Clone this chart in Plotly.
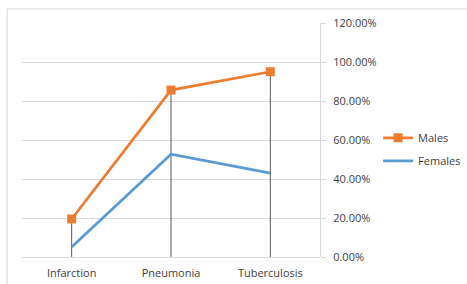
import plotly.graph_objects as go

categories = ["Infarction", "Pneumonia", "Tuberculosis"]
males = [0.195, 0.856, 0.95]
females = [0.051, 0.527, 0.43]
y_ticks = [0, 0.2, 0.4, 0.6, 0.8, 1.0, 1.2]

ORANGE = "#ED7D31"
BLUE = "#5B9BD5"
GRID = "#D9D9D9"
TEXT = "#404040"

fig = go.Figure()
# drop lines (from male values down to axis)
fig.add_trace(go.Scatter(
    x=categories, y=males, mode="none", showlegend=False, hoverinfo="skip",
    error_y=dict(type="data", symmetric=False, array=[0]*len(males),
                 arrayminus=males, color="#595959", thickness=1, width=0),
))
fig.add_trace(go.Scatter(
    x=categories, y=males, name="Males", mode="lines+markers",
    legendgroup="m",
    line=dict(color=ORANGE, width=2.75),
    marker=dict(symbol="square", size=9, color=ORANGE),
))
fig.add_trace(go.Scatter(
    x=categories, y=females, name="Females", mode="lines",
    legendgroup="f",
    line=dict(color=BLUE, width=2.75),
))

fig.update_layout(
    width=467, height=284,
    margin=dict(l=22, r=147, t=23, b=27, autoexpand=False),
    paper_bgcolor="white", plot_bgcolor="white",
    font=dict(family="Open Sans, Liberation Sans, sans-serif", size=11, color=TEXT),
    legend=dict(x=1.195, y=0.46, xanchor="left", yanchor="middle",
                font=dict(size=11, color=TEXT), tracegroupgap=4,
                itemwidth=30, bgcolor="rgba(0,0,0,0)"),
    xaxis=dict(type="category", range=[-0.5, 2.5], showgrid=False,
               showline=False, ticks="", ticklabelstandoff=8,
               tickfont=dict(size=11, color=TEXT)),
    yaxis=dict(side="right", range=[0, 1.2], tickvals=y_ticks,
               tickformat=".2%", showgrid=True, gridcolor=GRID, gridwidth=1,
               zeroline=True, zerolinecolor=GRID, zerolinewidth=1,
               showline=True, linecolor=GRID, linewidth=1,
               ticks="outside", ticklen=5, tickcolor=GRID,
               ticklabelstandoff=5,
               tickfont=dict(size=11, color=TEXT)),
    shapes=[dict(type="rect", xref="paper", yref="paper",
                 x0=-0.05, x1=1.6, y0=-0.3, y1=1.06,
                 line=dict(color=GRID, width=1), layer="below")],
)

fig.write_html("out.html", config={"displayModeBar": False},
               post_script="document.body.style.margin='0';")
